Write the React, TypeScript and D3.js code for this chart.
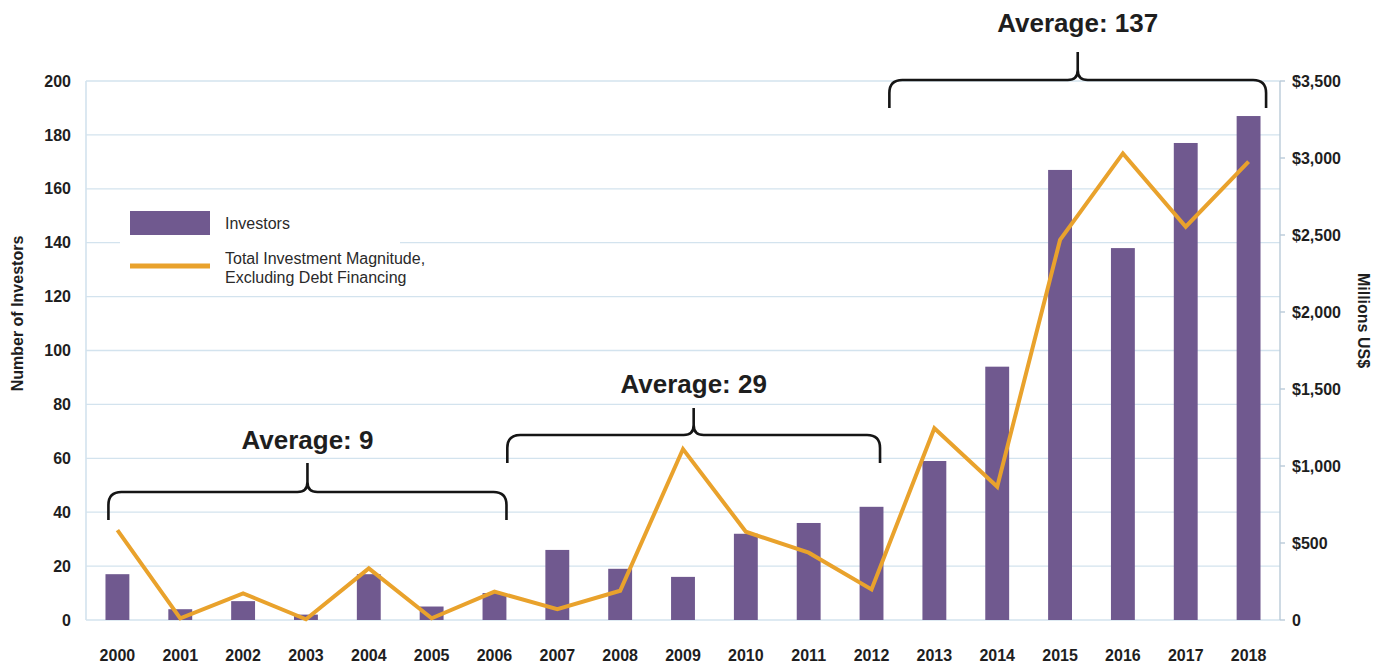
import React from 'react';
import * as d3 from 'd3';

const years = ['2000', '2001', '2002', '2003', '2004', '2005', '2006', '2007', '2008', '2009', '2010', '2011', '2012', '2013', '2014', '2015', '2016', '2017', '2018'];
const investors = [17, 4, 7, 2, 17, 5, 10, 26, 19, 16, 32, 36, 42, 59, 94, 167, 138, 177, 187];
const investmentMillions = [584, 11, 173, 5, 335, 11, 184, 71, 190, 1110, 573, 437, 199, 1245, 866, 2468, 3030, 2554, 2976];
const leftTicks = [0, 20, 40, 60, 80, 100, 120, 140, 160, 180, 200];
const rightTicks = [0, 500, 1000, 1500, 2000, 2500, 3000, 3500];
const averageLabels = ['Average: 9', 'Average: 29', 'Average: 137'];
const averageFrom = ['2000', '2007', '2013'];
const averageTo = ['2006', '2012', '2018'];
const legendLabels = ['Investors', 'Total Investment Magnitude,', 'Excluding Debt Financing'];

const W = 1376;
const H = 663;
const M = { left: 86, right: 1280, top: 81, bottom: 620 };
const PURPLE = '#70598f';
const ORANGE = '#e9a22c';
const GRID = '#d3e3ee';
const TEXT = '#1e1e1e';
const FONT = 'Liberation Sans, Arial, Helvetica, sans-serif';

// bracket layout (pixel offsets from year band centers, pixel y levels)
const bracketLayout = [
  { dx1: -9, dx2: 12, yh: 492, yb: 520, yt: 463, ty: 449 },
  { dx1: -50, dx2: 8.5, yh: 435, yb: 463, yt: 408, ty: 393 },
  { dx1: -45, dx2: 17.5, yh: 80, yb: 108, yt: 52, ty: 32 },
];

function bracePath(x1: number, x2: number, yh: number, yb: number, yt: number) {
  const r = 13;
  const xc = (x1 + x2) / 2;
  const rc = 10;
  return [
    `M${x1},${yb}`,
    `L${x1},${yh + r}`,
    `Q${x1},${yh} ${x1 + r},${yh}`,
    `L${xc - rc},${yh}`,
    `Q${xc},${yh} ${xc},${yh - rc}`,
    `L${xc},${yt}`,
    `M${xc},${yt}`,
    `L${xc},${yh - rc}`,
    `Q${xc},${yh} ${xc + rc},${yh}`,
    `L${x2 - r},${yh}`,
    `Q${x2},${yh} ${x2},${yh + r}`,
    `L${x2},${yb}`,
  ].join(' ');
}

export default function App() {
  const x = d3
    .scaleBand<string>()
    .domain(years)
    .range([M.left, M.right])
    .paddingInner(0.62)
    .paddingOuter(0.31);
  const yL = d3.scaleLinear().domain([0, 200]).range([M.bottom, M.top]);
  const yR = d3.scaleLinear().domain([0, 3500]).range([M.bottom, M.top]);
  const cx = (yr: string) => (x(yr) as number) + x.bandwidth() / 2;

  const line = d3
    .line<number>()
    .x((_, i) => cx(years[i]))
    .y((d) => yR(d));

  return (
    <svg
      width={W}
      height={H}
      viewBox={`0 0 ${W} ${H}`}
      style={{ position: 'fixed', left: 0, top: 0, background: '#fff' }}
      fontFamily={FONT}
    >
      <rect x={0} y={0} width={W} height={H} fill="#fff" />
      {/* gridlines */}
      {leftTicks.map((t) => (
        <line key={'g' + t} x1={M.left} x2={M.right} y1={yL(t)} y2={yL(t)} stroke={GRID} strokeWidth={1.3} />
      ))}
      {/* left axis */}
      <line x1={M.left} x2={M.left} y1={M.top} y2={M.bottom} stroke={GRID} strokeWidth={1.6} />
      {/* right axis */}
      <line x1={M.right} x2={M.right} y1={M.top} y2={M.bottom} stroke="#b9cbd8" strokeWidth={1.4} />
      {rightTicks.map((t) => (
        <line key={'rt' + t} x1={M.right} x2={M.right + 5} y1={yR(t)} y2={yR(t)} stroke="#b9cbd8" strokeWidth={1.4} />
      ))}
      {/* legend background */}
      <rect x={120} y={196} width={280} height={94} fill="#fff" />

      {/* bars */}
      {investors.map((v, i) => (
        <rect
          key={'b' + years[i]}
          x={x(years[i])}
          y={yL(v)}
          width={x.bandwidth()}
          height={yL(0) - yL(v)}
          fill={PURPLE}
        />
      ))}
      {/* line */}
      <path d={line(investmentMillions) || ''} fill="none" stroke={ORANGE} strokeWidth={4} strokeLinejoin="miter" />

      {/* left tick labels */}
      {leftTicks.map((t) => (
        <text key={'lt' + t} x={71} y={yL(t)} dy="0.35em" textAnchor="end" fontSize={16} fontWeight="bold" fill={TEXT}>
          {t}
        </text>
      ))}
      {/* right tick labels */}
      {rightTicks.map((t) => (
        <text key={'rl' + t} x={1292} y={yR(t)} dy="0.35em" textAnchor="start" fontSize={16} fontWeight="bold" fill={TEXT}>
          {t === 0 ? '0' : '$' + d3.format(',')(t)}
        </text>
      ))}
      {/* year labels */}
      {years.map((yr) => (
        <text key={'y' + yr} x={cx(yr)} y={655} dy="0.35em" textAnchor="middle" fontSize={16} fontWeight="bold" fill={TEXT}>
          {yr}
        </text>
      ))}
      {/* axis titles */}
      <text
        transform={`translate(17,${(M.top + M.bottom) / 2 - 37}) rotate(-90)`}
        textAnchor="middle"
        dy="0.35em"
        fontSize={16}
        fontWeight="bold"
        fill={TEXT}
      >
        Number of Investors
      </text>
      <text
        transform={`translate(1364,${(M.top + M.bottom) / 2 - 30}) rotate(90)`}
        textAnchor="middle"
        dy="0.35em"
        fontSize={16}
        fontWeight="bold"
        fill={TEXT}
      >
        Millions US$
      </text>

      {/* legend */}
      <rect x={130} y={211} width={80} height={24} fill={PURPLE} />
      <text x={225} y={223} dy="0.35em" fontSize={16} fill="#2a2a2a">
        {legendLabels[0]}
      </text>
      <line x1={130} x2={210} y1={266} y2={266} stroke={ORANGE} strokeWidth={5} />
      <text x={225} y={258} dy="0.35em" fontSize={16} fill="#2a2a2a">
        {legendLabels[1]}
      </text>
      <text x={225} y={277} dy="0.35em" fontSize={16} fill="#2a2a2a">
        {legendLabels[2]}
      </text>

      {/* average brackets */}
      {averageLabels.map((lab, i) => {
        const L = bracketLayout[i];
        const x1 = cx(averageFrom[i]) + L.dx1;
        const x2 = cx(averageTo[i]) + L.dx2;
        return (
          <g key={'br' + i}>
            <path d={bracePath(x1, x2, L.yh, L.yb, L.yt)} fill="none" stroke="#151515" strokeWidth={2.6} />
            <text x={(x1 + x2) / 2} y={L.ty} textAnchor="middle" fontSize={26} fontWeight="bold" fill={TEXT}>
              {lab}
            </text>
          </g>
        );
      })}
    </svg>
  );
}
